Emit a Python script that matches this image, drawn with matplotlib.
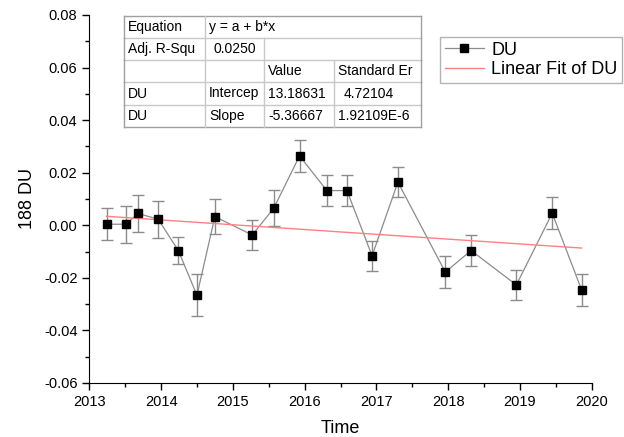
import numpy as np
import matplotlib
matplotlib.use("Agg")
import matplotlib.pyplot as plt
from matplotlib.ticker import MultipleLocator
from matplotlib.lines import Line2D

plt.rcParams['font.family'] = ['Liberation Sans', 'DejaVu Sans']

# Time (decimal years) and DU anomaly with uncertainties
time = [2013.24, 2013.51, 2013.68, 2013.96, 2014.24, 2014.50, 2014.75,
        2015.27, 2015.57, 2015.93, 2016.31, 2016.59, 2016.94, 2017.30,
        2017.96, 2018.32, 2018.95, 2019.45, 2019.86]
du = [0.0004, 0.0004, 0.0045, 0.0023, -0.0096, -0.0266, 0.0033,
      -0.0037, 0.0065, 0.0264, 0.0132, 0.0132, -0.0116, 0.0164,
      -0.0178, -0.0096, -0.0227, 0.0046, -0.0246]
du_err = [0.006, 0.007, 0.007, 0.007, 0.005, 0.008, 0.0067,
          0.0058, 0.0068, 0.006, 0.0058, 0.0058, 0.0058, 0.0058,
          0.006, 0.006, 0.0058, 0.006, 0.006]

table_rows = [
    ["Equation", "y = a + b*x", "", ""],
    ["Adj. R-Squ", "0.0250", "", ""],
    ["", "", "Value", "Standard Er"],
    ["DU", "Intercep", "13.18631", "4.72104"],
    ["DU", "Slope", "-5.36667", "1.92109E-6"],
]

W, H = 624, 437
fig = plt.figure(figsize=(W / 100, H / 100), dpi=100)

def fx(px):
    return px / W

def fy(py):
    return 1 - py / H

ax = fig.add_axes([fx(89.3), fy(383), fx(591.7) - fx(89.3), fy(15) - fy(383)])

x = np.array(time)
y = np.array(du)
ax.errorbar(x, y, yerr=du_err, fmt='none', ecolor='#8c8c8c', elinewidth=1.0,
            capsize=4, capthick=1.0, zorder=2)
ax.plot(x, y, color='#8c8c8c', lw=0.9, zorder=3)
ax.plot(x, y, ls='none', marker='s', ms=6, mfc='black', mec='black', zorder=4)

# least-squares linear fit
b, a = np.polyfit(x, y, 1)
xf = np.array([x.min(), x.max()])
ax.plot(xf, a + b * xf, color='#ff8080', lw=1.0, zorder=3)

ax.set_xlim(2013, 2020)
ax.set_ylim(-0.06, 0.08)
ax.xaxis.set_major_locator(MultipleLocator(1))
ax.xaxis.set_minor_locator(MultipleLocator(0.5))
ax.yaxis.set_major_locator(MultipleLocator(0.02))
ax.yaxis.set_minor_locator(MultipleLocator(0.01))
ax.yaxis.set_major_formatter(plt.FuncFormatter(lambda v, p: f"{v:.2f}"))
ax.tick_params(which='major', direction='out', length=5, width=1, labelsize=10.5)
ax.tick_params(which='minor', direction='out', length=3, width=1)
for s in ['top', 'right']:
    ax.spines[s].set_visible(False)
ax.set_xlabel("Time", fontsize=13, labelpad=8)
ax.set_ylabel("188 DU", fontsize=13, labelpad=6)

# statistics table
col_edges = [124, 205, 264, 334, 421]
row_edges = [16, 38, 60, 82, 105, 127]
tab_color = '#c8c8c8'
for i, r in enumerate(row_edges):
    c = '#a0a0a0' if i in (0, len(row_edges) - 1) else tab_color
    fig.add_artist(Line2D([fx(col_edges[0]), fx(col_edges[-1])], [fy(r), fy(r)],
                          color=c, lw=1.0))
for j, cx in enumerate(col_edges):
    c = '#a0a0a0' if j in (0, len(col_edges) - 1) else tab_color
    for i in range(len(row_edges) - 1):
        if i == 0 and j in (2, 3):
            continue
        if i == 1 and j == 3:
            continue
        fig.add_artist(Line2D([fx(cx), fx(cx)], [fy(row_edges[i]), fy(row_edges[i + 1])],
                              color=c, lw=1.0))
for i, row in enumerate(table_rows):
    yc = (row_edges[i] + row_edges[i + 1]) / 2
    for j, txt in enumerate(row):
        if not txt:
            continue
        xl = col_edges[j] + 4
        if j == 1 and i == 1:
            xl = col_edges[j] + 8
        if j == 3 and i == 3:
            xl = col_edges[j] + 10
        fig.text(fx(xl), fy(yc), txt, fontsize=10, ha='left', va='center')

# legend
handles = [Line2D([], [], color='#8c8c8c', lw=0.9, marker='s', ms=6,
                  mfc='black', mec='black'),
           Line2D([], [], color='#ff8080', lw=1.0)]
fig.legend(handles, ["DU", "Linear Fit of DU"], loc='upper left',
           bbox_to_anchor=(fx(440), fy(37)), frameon=True, fancybox=False,
           edgecolor='#a0a0a0', fontsize=13, handlelength=2.2,
           borderpad=0.25, labelspacing=0.15, handletextpad=0.4,
           borderaxespad=0)

fig.savefig("out.png", dpi=100)
